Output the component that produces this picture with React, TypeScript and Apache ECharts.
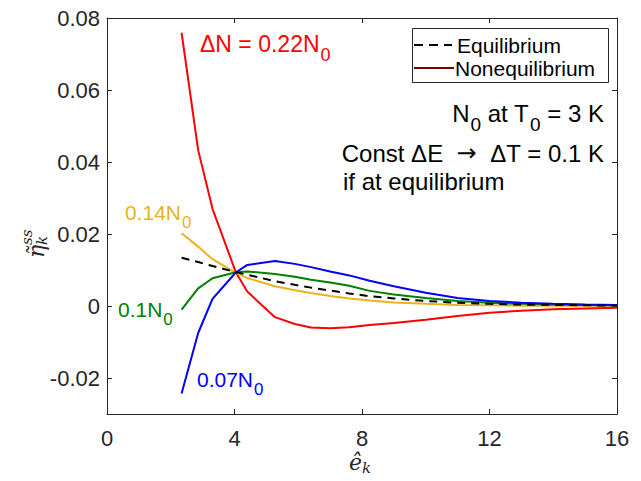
import React, { useEffect, useRef } from "react";
import * as echarts from "echarts";

// energy grid (x) and curves
const ek = [2.34, 2.86, 3.31, 4.04, 4.4, 5.27, 5.89, 6.4, 7, 7.6, 8.24, 9, 10, 11, 12, 13, 14, 15, 16];
const eqVals = [0.0134, 0.0122, 0.0111, 0.0094, 0.0087, 0.0069, 0.0059, 0.0051, 0.0043, 0.0035, 0.0027, 0.0021, 0.0014, 0.0009, 0.0006, 0.0004, 0.0003, 0.0002, 0.0001];
const dN022 = [0.0759, 0.0433, 0.027, 0.0094, 0.004, -0.0031, -0.005, -0.006, -0.0062, -0.0059, -0.0053, -0.0047, -0.0038, -0.0028, -0.0019, -0.0013, -0.0009, -0.0007, -0.0005];
const dN014 = [0.0202, 0.0165, 0.013, 0.0092, 0.0078, 0.0055, 0.0044, 0.0036, 0.0028, 0.0021, 0.0015, 0.001, 0.0006, 0.0003, 0.0002, 0.0001, 0.0001, 0.0001, 0.0];
const dN010 = [-0.001, 0.0049, 0.0077, 0.0094, 0.0096, 0.0089, 0.0081, 0.0073, 0.0065, 0.0056, 0.0042, 0.0032, 0.0022, 0.0014, 0.0009, 0.0006, 0.0004, 0.0003, 0.0002];
const dN007 = [-0.0243, -0.0075, 0.002, 0.0093, 0.0114, 0.0125, 0.0117, 0.0108, 0.0096, 0.0085, 0.007, 0.0055, 0.0037, 0.0022, 0.0014, 0.0009, 0.0006, 0.0004, 0.0003];
const xTicks = [0, 4, 8, 12, 16];
const yTicks = [-0.02, 0, 0.02, 0.04, 0.06, 0.08];

const AX = "#262626";
const FONT = "'Liberation Sans', Arial, sans-serif";
const SERIF = "'DejaVu Serif', 'Liberation Serif', serif";

const pairs = (ys: number[]) => ek.map((x, i) => [x, ys[i]]);

function measure(text: string, fs: number) {
  const t = new echarts.graphic.Text({ style: { text, fontSize: fs, fontFamily: FONT } });
  return t.getBoundingRect().width;
}

// parts: [text, isSubscript]
function subText(x: number, y: number, parts: [string, boolean][], fs: number, color: string, align: "left" | "right" = "left") {
  const sfs = Math.round(fs * 0.8);
  const off = Math.round(fs * 0.47);
  const widths = parts.map(([t, s]) => measure(t, s ? sfs : fs) + (s ? 1 : 0));
  const total = widths.reduce((a, b) => a + b, 0);
  let cx = align === "left" ? x : x - total;
  const out: any[] = [];
  parts.forEach(([t, s], i) => {
    out.push({
      type: "text",
      x: cx + (s ? 1 : 0),
      y: s ? y + off : y,
      z: 5,
      style: { text: t, fontSize: s ? sfs : fs, fontFamily: FONT, fill: color, align: "left", verticalAlign: "middle" },
    });
    cx += widths[i];
  });
  return out;
}

export default function App() {
  const ref = useRef<HTMLDivElement>(null);
  useEffect(() => {
    if (!ref.current) return;
    const chart = echarts.init(ref.current, null, { renderer: "svg" });
    const axisCommon = {
      type: "value" as const,
      axisLine: { show: true, onZero: false, lineStyle: { color: AX, width: 1 } },
      axisTick: { show: true, inside: true, length: 5, lineStyle: { color: AX } },
      splitLine: { show: false },
    };
    const lineS = (name: string, ys: number[], color: string, dashed = false, z = 2) => ({
      name,
      type: "line",
      data: pairs(ys),
      showSymbol: false,
      symbol: "none",
      z,
      lineStyle: { color, width: 2, type: dashed ? [8, 6] : "solid" },
      xAxisIndex: 0,
      yAxisIndex: 0,
    });
    chart.setOption({
      animation: false,
      backgroundColor: "#ffffff",
      grid: { left: 107, right: 24, top: 18, bottom: 67, containLabel: false },
      xAxis: [
        {
          ...axisCommon,
          min: 0,
          max: 16,
          interval: 4,
          position: "bottom",
          axisLabel: { show: true, color: AX, fontSize: 22, fontFamily: FONT, margin: 13, customValues: xTicks },
        },
        {
          ...axisCommon,
          min: 0,
          max: 16,
          interval: 4,
          position: "top",
          axisLabel: { show: false },
        },
      ],
      yAxis: [
        {
          ...axisCommon,
          min: -0.03,
          max: 0.08,
          position: "left",
          axisTick: { ...axisCommon.axisTick, customValues: yTicks },
          axisLabel: {
            show: true,
            color: AX,
            fontSize: 22,
            fontFamily: FONT,
            margin: 7,
            customValues: yTicks,
            formatter: (v: number) => (Math.abs(v) < 1e-9 ? "0" : v.toFixed(2)),
          },
        },
        {
          ...axisCommon,
          min: -0.03,
          max: 0.08,
          position: "right",
          axisTick: { ...axisCommon.axisTick, customValues: yTicks },
          axisLabel: { show: false },
        },
      ],
      series: [
        lineS("Equilibrium", eqVals, "#000000", true, 3),
        lineS("0.22", dN022, "#FF0000"),
        lineS("0.14", dN014, "#EDB120"),
        lineS("0.10", dN010, "#008000"),
        lineS("0.07", dN007, "#0000FF"),
      ],
      graphic: [
        ...subText(200, 44, [["ΔN = 0.22N", false], ["0", true]], 23, "#FF0000"),
        ...subText(125, 212, [["0.14N", false], ["0", true]], 21, "#EDB120"),
        ...subText(118, 309, [["0.1N", false], ["0", true]], 21, "#008000"),
        ...subText(197, 379, [["0.07N", false], ["0", true]], 21, "#0000FF"),
        // legend
        { type: "rect", shape: { x: 412.5, y: 28.5, width: 196, height: 54 }, style: { fill: "#ffffff", stroke: "#262626", lineWidth: 1 }, z: 10 },
        { type: "line", shape: { x1: 414, y1: 45, x2: 452, y2: 45 }, style: { stroke: "#000000", lineWidth: 2, lineDash: [9, 6] }, z: 11 },
        { type: "line", shape: { x1: 414, y1: 68, x2: 454, y2: 68 }, style: { stroke: "#7A0000", lineWidth: 2 }, z: 11 },
        { type: "text", x: 457, y: 45, z: 11, style: { text: "Equilibrium", fontSize: 21, fontFamily: FONT, fill: "#000000", align: "left", verticalAlign: "middle" } },
        { type: "text", x: 455, y: 68, z: 11, style: { text: "Nonequilibrium", fontSize: 21, fontFamily: FONT, fill: "#000000", align: "left", verticalAlign: "middle" } },
        // notes
        ...subText(604, 113, [["N", false], ["0", true], [" at T", false], ["0", true], [" = 3 K", false]], 24, "#000000", "right"),
        {
          type: "text",
          x: 604,
          y: 153,
          style: {
            text: "{m|Const ΔE  }{a|→}{m|  ΔT = 0.1 K}",
            rich: {
              m: { fontSize: 24, fontFamily: FONT, fill: "#000000", lineHeight: 28 },
              a: { fontSize: 24, fontFamily: "'DejaVu Sans', sans-serif", fill: "#000000", lineHeight: 28 },
            },
            align: "right",
            verticalAlign: "middle",
          },
        },
        { type: "text", x: 343, y: 181, style: { text: "if at equilibrium", fontSize: 24, fontFamily: FONT, fill: "#000000", align: "left", verticalAlign: "middle" } },
        // axis titles
        {
          type: "group",
          x: 36,
          y: 258,
          rotation: Math.PI / 2,
          children: [
            { type: "text", x: 0, y: 0, style: { text: "η̃", fontSize: 22, fontFamily: SERIF, fontStyle: "italic", fill: AX, align: "left", verticalAlign: "middle" } },
            { type: "text", x: 13, y: -9, style: { text: "ss", fontSize: 15, fontFamily: SERIF, fontStyle: "italic", fill: AX, align: "left", verticalAlign: "middle" } },
            { type: "text", x: 13, y: 6, style: { text: "k", fontSize: 15, fontFamily: SERIF, fontStyle: "italic", fill: AX, align: "left", verticalAlign: "middle" } },
          ],
        },
        {
          type: "group",
          x: 349,
          y: 462,
          children: [
            { type: "text", x: 0, y: 0, style: { text: "ê", fontSize: 22, fontFamily: SERIF, fontStyle: "italic", fill: AX, align: "left", verticalAlign: "middle" } },
            { type: "text", x: 13, y: 6, style: { text: "k", fontSize: 15, fontFamily: SERIF, fontStyle: "italic", fill: AX, align: "left", verticalAlign: "middle" } },
          ],
        },
      ],
    });
    return () => chart.dispose();
  }, []);
  return <div ref={ref} style={{ width: 641, height: 481, position: "absolute", left: 0, top: 0 }} />;
}
